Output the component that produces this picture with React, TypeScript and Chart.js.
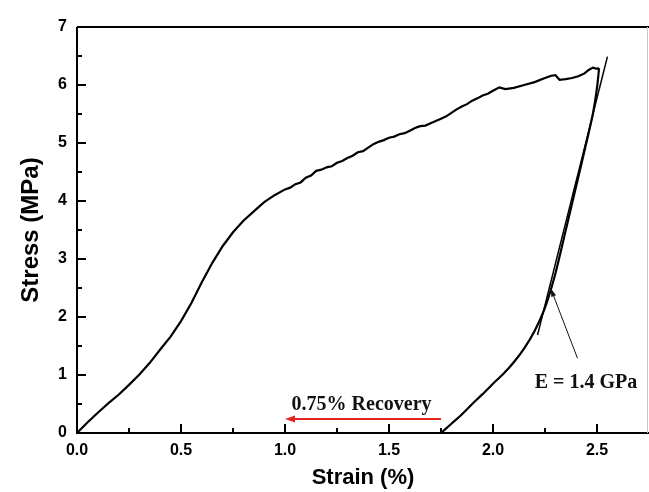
import React, { useEffect, useRef } from "react";
import { Chart, registerables } from "chart.js";

Chart.register(...registerables);

// ---- data ----
const loadStrain = [0, 0.05, 0.1, 0.15, 0.2, 0.25, 0.3, 0.35, 0.4, 0.45, 0.5, 0.55, 0.6, 0.65, 0.7, 0.75, 0.8, 0.85, 0.9, 0.95,
  1.0, 1.025, 1.05, 1.075, 1.1, 1.125, 1.15, 1.175, 1.2, 1.225, 1.25, 1.275, 1.3, 1.325, 1.35, 1.375, 1.4, 1.425, 1.45, 1.475,
  1.5, 1.525, 1.55, 1.575, 1.6, 1.625, 1.65, 1.675, 1.7, 1.725, 1.75, 1.775, 1.8, 1.825, 1.85, 1.875, 1.9, 1.925, 1.95, 1.975,
  2.0, 2.03, 2.06, 2.1, 2.15, 2.2, 2.25, 2.28, 2.3, 2.32, 2.35, 2.38, 2.41, 2.44, 2.46, 2.48, 2.5, 2.51];
const loadStress = [0, 0.18, 0.35, 0.51, 0.66, 0.83, 1.01, 1.21, 1.44, 1.66, 1.93, 2.24, 2.6, 2.93, 3.22, 3.46, 3.66, 3.82, 3.98, 4.1,
  4.2, 4.23, 4.29, 4.32, 4.4, 4.44, 4.52, 4.54, 4.58, 4.6, 4.66, 4.69, 4.74, 4.78, 4.84, 4.86, 4.92, 4.98, 5.02, 5.05,
  5.09, 5.11, 5.15, 5.17, 5.21, 5.26, 5.29, 5.3, 5.34, 5.38, 5.42, 5.46, 5.52, 5.58, 5.63, 5.67, 5.73, 5.77, 5.82, 5.85,
  5.9, 5.96, 5.93, 5.95, 6.0, 6.05, 6.12, 6.16, 6.17, 6.09, 6.1, 6.12, 6.15, 6.2, 6.26, 6.3, 6.28, 6.29];

const unloadStrain = [2.51, 2.5, 2.48, 2.45, 2.4, 2.35, 2.3, 2.25, 2.2, 2.15, 2.1, 2.05, 2.0, 1.95, 1.9, 1.85, 1.8, 1.75];
const unloadStress = [6.29, 5.95, 5.5, 5.02, 4.26, 3.5, 2.75, 2.16, 1.76, 1.46, 1.22, 1.02, 0.85, 0.67, 0.5, 0.32, 0.16, 0];

const tangentStrain = [2.214, 2.55];
const tangentStress = [1.69, 6.49];

const xMajorTicks = [0, 0.5, 1.0, 1.5, 2.0, 2.5];
const xMinorTicks = [0.25, 0.75, 1.25, 1.75, 2.25];
const yMajorTicks = [1, 2, 3, 4, 5, 6];
const yMinorTicks = [0.5, 1.5, 2.5, 3.5, 4.5, 5.5, 6.5];

const recoveryArrow = { fromX: 1.75, toX: 1.0, y: 0.24 };
const recoveryLabel = { text: "0.75% Recovery", x: 1.368, y: 0.48 };
const modulusArrow = { fromX: 2.406, fromY: 1.29, toX: 2.278, toY: 2.49 };
const modulusLabel = { text: "E = 1.4 GPa", x: 2.447, y: 0.862 };

const zip = (xs: number[], ys: number[]) => xs.map((x, i) => ({ x, y: ys[i] }));

function arrowHead(ctx: CanvasRenderingContext2D, x1: number, y1: number, x2: number, y2: number, len: number, half: number) {
  const ang = Math.atan2(y2 - y1, x2 - x1);
  ctx.beginPath();
  ctx.moveTo(x2, y2);
  ctx.lineTo(x2 - len * Math.cos(ang) + half * Math.sin(ang), y2 - len * Math.sin(ang) - half * Math.cos(ang));
  ctx.lineTo(x2 - len * Math.cos(ang) - half * Math.sin(ang), y2 - len * Math.sin(ang) + half * Math.cos(ang));
  ctx.closePath();
  ctx.fill();
}

const decor = {
  id: "decor",
  afterDatasetsDraw(chart: any) {
    const { ctx, chartArea: a } = chart;
    const xs = chart.scales.x;
    const ys = chart.scales.y;
    ctx.save();
    // frame
    ctx.strokeStyle = "#000";
    ctx.lineWidth = 2;
    ctx.beginPath();
    ctx.moveTo(a.left, a.top);
    ctx.lineTo(a.right, a.top);
    ctx.moveTo(a.left, a.top);
    ctx.lineTo(a.left, a.bottom);
    ctx.lineTo(a.right, a.bottom);
    ctx.stroke();
    ctx.strokeStyle = "#c8c8c8";
    ctx.lineWidth = 1;
    ctx.beginPath();
    ctx.moveTo(a.right - 1.5, a.top);
    ctx.lineTo(a.right - 1.5, a.bottom);
    ctx.stroke();

    // inward ticks
    ctx.strokeStyle = "#000";
    ctx.lineWidth = 2;
    ctx.beginPath();
    xMajorTicks.forEach((v) => {
      const p = xs.getPixelForValue(v);
      ctx.moveTo(p, a.bottom);
      ctx.lineTo(p, a.bottom - 9);
    });
    xMinorTicks.forEach((v) => {
      const p = xs.getPixelForValue(v);
      ctx.moveTo(p, a.bottom);
      ctx.lineTo(p, a.bottom - 5);
    });
    yMajorTicks.forEach((v) => {
      const p = ys.getPixelForValue(v);
      ctx.moveTo(a.left, p);
      ctx.lineTo(a.left + 9, p);
    });
    yMinorTicks.forEach((v) => {
      const p = ys.getPixelForValue(v);
      ctx.moveTo(a.left, p);
      ctx.lineTo(a.left + 5, p);
    });
    ctx.stroke();

    // recovery arrow (red)
    const rx1 = xs.getPixelForValue(recoveryArrow.fromX);
    const rx2 = xs.getPixelForValue(recoveryArrow.toX);
    const ry = ys.getPixelForValue(recoveryArrow.y);
    ctx.strokeStyle = "#e3261f";
    ctx.fillStyle = "#e3261f";
    ctx.lineWidth = 2;
    ctx.beginPath();
    ctx.moveTo(rx1, ry);
    ctx.lineTo(rx2 + 8, ry);
    ctx.stroke();
    arrowHead(ctx, rx1, ry, rx2, ry, 10, 3.5);

    // modulus arrow (black)
    const mx1 = xs.getPixelForValue(modulusArrow.fromX);
    const my1 = ys.getPixelForValue(modulusArrow.fromY);
    const mx2 = xs.getPixelForValue(modulusArrow.toX);
    const my2 = ys.getPixelForValue(modulusArrow.toY);
    ctx.strokeStyle = "#111";
    ctx.fillStyle = "#111";
    ctx.lineWidth = 1;
    ctx.beginPath();
    ctx.moveTo(mx1, my1);
    ctx.lineTo(mx2, my2);
    ctx.stroke();
    arrowHead(ctx, mx1, my1, mx2, my2, 8, 2.5);

    // labels
    ctx.fillStyle = "#111";
    ctx.font = "bold 20px 'Liberation Serif', 'Times New Roman', serif";
    ctx.textAlign = "center";
    ctx.textBaseline = "middle";
    ctx.fillText(recoveryLabel.text, xs.getPixelForValue(recoveryLabel.x), ys.getPixelForValue(recoveryLabel.y));
    ctx.fillText(modulusLabel.text, xs.getPixelForValue(modulusLabel.x), ys.getPixelForValue(modulusLabel.y));
    ctx.restore();
  },
};

export default function App() {
  const ref = useRef<HTMLCanvasElement>(null);
  useEffect(() => {
    if (!ref.current) return;
    const tickFont = { family: "'Liberation Sans', Arial, sans-serif", size: 16, weight: "bold" as const };
    const chart = new Chart(ref.current, {
      type: "scatter",
      data: {
        datasets: [
          { data: zip(loadStrain, loadStress), showLine: true, borderColor: "#000", borderWidth: 2.2, pointRadius: 0, tension: 0 },
          { data: zip(unloadStrain, unloadStress), showLine: true, borderColor: "#000", borderWidth: 2.2, pointRadius: 0, tension: 0.25 },
          { data: zip(tangentStrain, tangentStress), showLine: true, borderColor: "#000", borderWidth: 1.5, pointRadius: 0, tension: 0 },
        ],
      },
      options: {
        animation: false,
        responsive: false,
        devicePixelRatio: 1,
        layout: { padding: { top: 27, right: 0, left: 0, bottom: 0 } },
        plugins: { legend: { display: false }, tooltip: { enabled: false } },
        scales: {
          x: {
            type: "linear",
            min: 0,
            max: 2.75,
            grid: { display: false, drawTicks: false },
            border: { display: false },
            ticks: {
              stepSize: 0.5,
              includeBounds: false,
              padding: 8,
              color: "#000",
              font: tickFont,
              maxRotation: 0,
              callback: (v: any) => Number(v).toFixed(1),
            },
            title: {
              display: true,
              text: "Strain (%)",
              color: "#000",
              font: { family: "'Liberation Sans', Arial, sans-serif", size: 22, weight: "bold" },
              padding: { top: 0, bottom: 1 },
            },
            afterFit: (s: any) => { s.height = 59; },
          },
          y: {
            type: "linear",
            min: 0,
            max: 7,
            grid: { display: false, drawTicks: false },
            border: { display: false },
            ticks: {
              stepSize: 1,
              padding: 10,
              color: "#000",
              font: tickFont,
              callback: (v: any) => String(v),
            },
            title: {
              display: true,
              text: "Stress (MPa)",
              color: "#000",
              font: { family: "'Liberation Sans', Arial, sans-serif", size: 24, weight: "bold" },
              padding: { top: 17, bottom: 0 },
            },
            afterFit: (s: any) => { s.width = 77; },
          },
        },
      },
      plugins: [decor],
    });
    return () => chart.destroy();
  }, []);
  return (
    <div style={{ position: "absolute", left: 0, top: 0, width: 649, height: 492, background: "#fff" }}>
      <canvas ref={ref} width={649} height={492} />
    </div>
  );
}
